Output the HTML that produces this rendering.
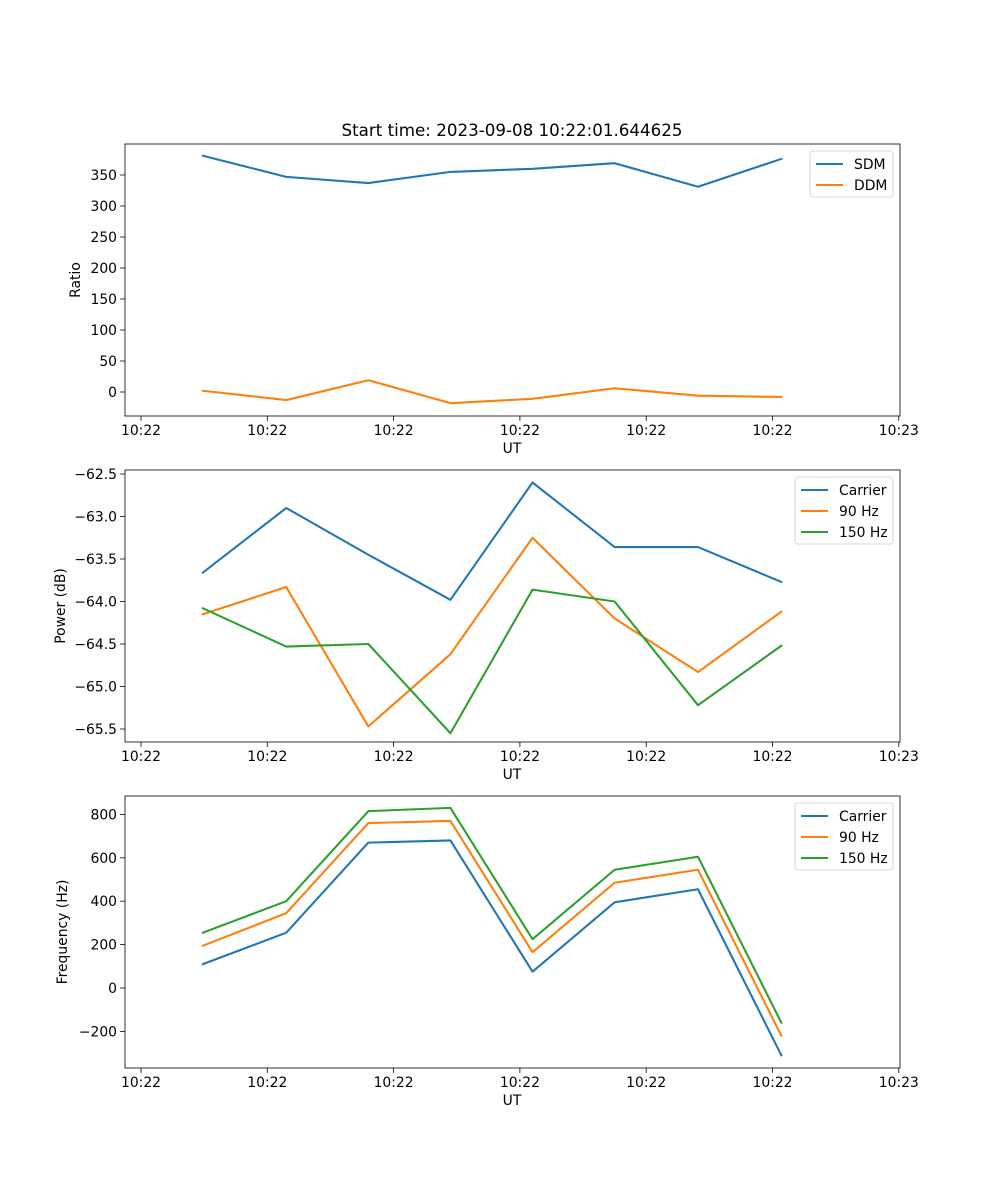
<!DOCTYPE html>
<html><head><meta charset="utf-8"><style>
body{margin:0;background:#fff}
svg{display:block;font-family:"DejaVu Sans","Liberation Sans",sans-serif}
</style></head><body>
<svg id="fig" width="1000" height="1200" xmlns="http://www.w3.org/2000/svg"></svg>
<script>
const xTicks=[0,1,2,3,4,5,6];
const xTickLabels=["10:22","10:22","10:22","10:22","10:22","10:22","10:23"];
const times=[0.49,1.15,1.80,2.45,3.10,3.75,4.41,5.07];
const sdm=[381,347,337,355,360,369,331,376];
const ddm=[2,-13,19,-18,-11,6,-6,-8];
const ratioTicks=[0,50,100,150,200,250,300,350];
const pCarrier=[-63.66,-62.9,-63.45,-63.98,-62.6,-63.36,-63.36,-63.77];
const p90=[-64.15,-63.83,-65.47,-64.62,-63.25,-64.2,-64.83,-64.12];
const p150=[-64.08,-64.53,-64.5,-65.55,-63.86,-64.0,-65.22,-64.52];
const powerTicks=[-65.5,-65.0,-64.5,-64.0,-63.5,-63.0,-62.5];
const fCarrier=[110,255,670,680,75,395,455,-310];
const f90=[195,345,760,770,165,485,545,-220];
const f150=[255,400,815,830,225,545,605,-160];
const freqTicks=[-200,0,200,400,600,800];

const NS="http://www.w3.org/2000/svg";
const svg=document.getElementById('fig');
function mk(t,a,p){const e=document.createElementNS(NS,t);for(const k in a)e.setAttribute(k,a[k]);(p||svg).appendChild(e);return e;}
const L=125,R=900;
function xs(v){return 141+v*126.3;}
const C=["#1f77b4","#ff7f0e","#2ca02c"];

function panel(name,top,bot,ys,ticks,fmt,ylabel,series,legend){
  const g=mk('g',{});
  
  
  xTicks.forEach((t,i)=>{const x=xs(t);
    const l=mk('line',{x1:x,x2:x,y1:bot,y2:bot+4.9,stroke:'#000','stroke-width':0.8},g);
    
    const tx=mk('text',{x:x,y:bot+19,'font-size':13.9,'text-anchor':'middle',fill:'#000'},g);
    
    tx.textContent=xTickLabels[i];});
  ticks.forEach(t=>{const y=ys(t);
    const l=mk('line',{x1:L-4.9,x2:L,y1:y,y2:y,stroke:'#000','stroke-width':0.8},g);
    
    const tx=mk('text',{x:L-8,y:y+5,'font-size':13.9,'text-anchor':'end',fill:'#000'},g);
    
    tx.textContent=fmt(t);});
  const xl=mk('text',{x:512,y:bot+37,'font-size':13.9,'text-anchor':'middle'},g);
  
  xl.textContent='UT';
  const yl=mk('text',{x:0,y:0,'font-size':13.9,'text-anchor':'middle',transform:`translate(${ylabel[1]},${(top+bot)/2}) rotate(-90)`},g);
  
  yl.textContent=ylabel[0];
  series.forEach((s,i)=>{
    const p=mk('polyline',{points:times.map((t,j)=>xs(t)+','+ys(s[j])).join(' '),fill:'none',stroke:C[i],'stroke-width':2.08,'stroke-linejoin':'round','stroke-linecap':'square'},g);
    
    });
  const fr=mk('rect',{x:L,y:top,width:R-L,height:bot-top,fill:'none',stroke:'#000','stroke-width':0.8},g);
  
  const lw=legend.length===2?83:98,lx=893-lw,ly=top+7,lh=legend.length*21+4;
  const lg=mk('g',{},g);
  
  mk('rect',{x:lx,y:ly,width:lw,height:lh,rx:3,fill:'#fff','fill-opacity':0.8,stroke:'#ccc','stroke-width':0.8},lg);
  legend.forEach((n,i)=>{const yy=ly+13+i*21;
    const e=mk('g',{},lg);
    
    mk('line',{x1:lx+6,x2:lx+33,y1:yy,y2:yy,stroke:C[i],'stroke-width':2.08},e);
    const t=mk('text',{x:lx+44,y:yy+5,'font-size':13.9},e);t.textContent=n;});
}
panel('ratio-panel',144,416,v=>392-v*0.62,ratioTicks,v=>String(v),['Ratio',80],[sdm,ddm],['SDM','DDM']);
panel('power-panel',470,742,v=>474+(-62.5-v)*85,powerTicks,v=>(v<0?'\u2212':'')+Math.abs(v).toFixed(1),['Power (dB)',65],[pCarrier,p90,p150],['Carrier','90 Hz','150 Hz']);
panel('frequency-panel',796,1068,v=>988-v*0.217,freqTicks,v=>(v<0?'\u2212':'')+Math.abs(v),['Frequency (Hz)',67],[fCarrier,f90,f150],['Carrier','90 Hz','150 Hz']);
const ti=mk('text',{x:512,y:136,'font-size':16.7,'text-anchor':'middle'});


ti.textContent='Start time: 2023-09-08 10:22:01.644625';
</script>
</body></html>
